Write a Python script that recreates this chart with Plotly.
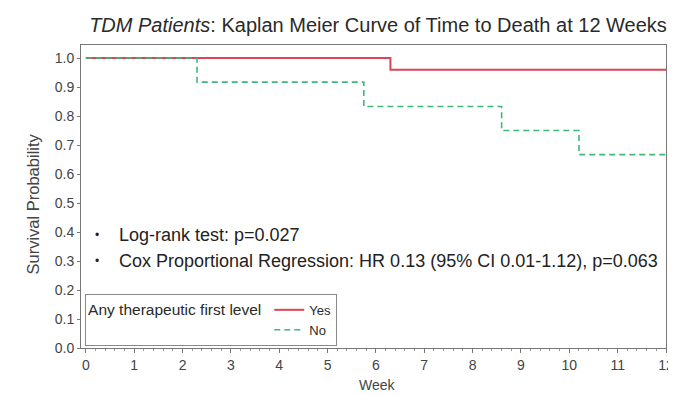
import plotly.graph_objects as go

# Kaplan-Meier step data (week, survival)
yes_weeks = [0, 6.3, 12]
yes_surv = [1.0, 0.96, 0.96]
no_weeks = [0, 2.3, 5.75, 8.6, 10.2, 12]
no_surv = [1.0, 0.917, 0.833, 0.75, 0.667, 0.667]
x_ticks = list(range(0, 13))
y_ticks = [i / 10 for i in range(0, 11)]

# page body has an 8px default margin: figure is 668x387 placed at (8, 8)
L, T, B, R = 73, 37, 47, 10
W, H = 668, 387
PW, PH = W - L - R, H - T - B

fig = go.Figure()
fig.add_trace(go.Scatter(x=yes_weeks, y=yes_surv, mode="lines", name="Yes",
                         line=dict(color="#dc4452", width=2, shape="hv")))
fig.add_trace(go.Scatter(x=no_weeks, y=no_surv, mode="lines", name="No",
                         line=dict(color="#3fb87a", width=1.6, shape="hv", dash="6px,4px")))

fig.update_layout(
    width=W, height=H,
    margin=dict(l=L, r=R, t=T, b=B, autoexpand=False),
    paper_bgcolor="white", plot_bgcolor="white",
    font=dict(family="Liberation Sans, Arial, sans-serif", color="#333333", size=14),
    title=dict(text="<i>TDM Patients</i>: Kaplan Meier Curve of Time to Death at 12 Weeks",
               x=370 / W, xanchor="center", y=1 - 17 / H, yanchor="middle",
               font=dict(size=20, color="#2a2a2a")),
    showlegend=True,
    legend=dict(x=0.007, y=0.007, xanchor="left", yanchor="bottom",
                bgcolor="white", bordercolor="#888888", borderwidth=1,
                title=dict(text="Any therapeutic first level", side="left",
                           font=dict(size=15.5, color="#2a2a2a")),
                font=dict(size=13, color="#2a2a2a"),
                tracegroupgap=0, itemwidth=30),
    xaxis=dict(range=[-0.1, 12], tickvals=x_ticks, ticktext=[str(v) for v in x_ticks],
               automargin=False,
               showgrid=False, zeroline=False, showline=True, linecolor="#777777",
               mirror=True, ticks="outside", ticklen=4, tickcolor="#777777",
               minor=dict(ticks="outside", ticklen=2, dtick=0.2, tickcolor="#999999"),
               tickfont=dict(size=14, color="#444444")),
    yaxis=dict(range=[0, 1.045], tickvals=y_ticks, ticktext=[f"{v:.1f}" for v in y_ticks],
               automargin=False,
               showgrid=False, zeroline=False, showline=True, linecolor="#777777",
               mirror=True, ticks="outside", ticklen=3, tickcolor="#777777",
               tickfont=dict(size=14, color="#444444")),
)

# axis titles as annotations (pixel-positioned)
fig.add_annotation(x=(24 - L) / PW, y=(H - B - 196.5) / PH, xref="paper", yref="paper",
                   text="Survival Probability", textangle=-90, showarrow=False,
                   font=dict(size=16.5, color="#444444"), xanchor="center", yanchor="middle")
fig.add_annotation(x=(369 - L) / PW, y=-(377 - (H - B)) / PH, xref="paper", yref="paper",
                   text="Week", showarrow=False,
                   font=dict(size=14, color="#444444"), xanchor="center", yanchor="middle")

# statistics text
for yv, txt in [(0.39, "Log-rank test: p=0.027"),
                (0.30, "Cox Proportional Regression: HR 0.13 (95% CI 0.01-1.12), p=0.063")]:
    fig.add_annotation(x=0.23, y=yv, xref="x", yref="y", xanchor="center", showarrow=False,
                       text="•", font=dict(size=12, color="#222222"))
    fig.add_annotation(x=0.645, y=yv, xref="x", yref="y", xanchor="left", showarrow=False,
                       text=txt, font=dict(size=18, color="#222222"))

fig.write_html("out.html")
